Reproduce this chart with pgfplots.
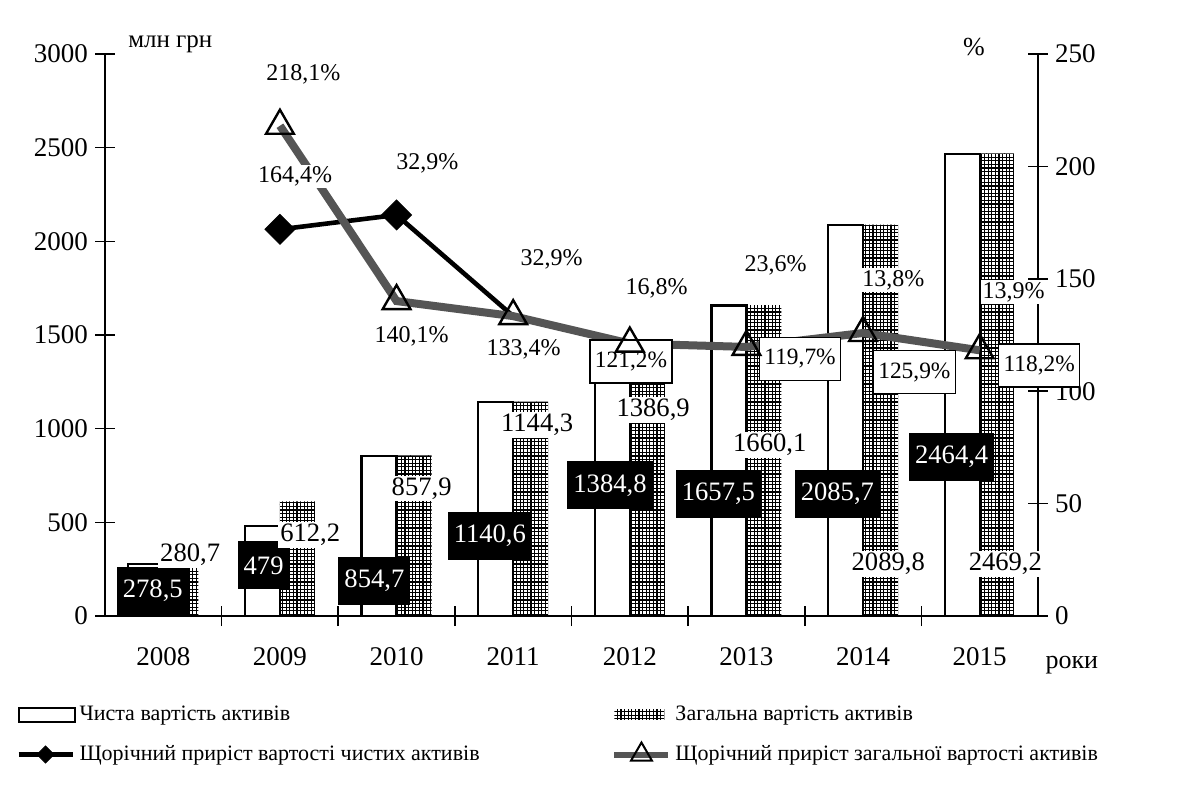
\documentclass[border=0pt]{standalone}
\usepackage{fontspec}
\setmainfont{Liberation Serif}
\usepackage{pgfplots}
\pgfplotsset{compat=1.18}
\usetikzlibrary{patterns}
\definecolor{lgray}{HTML}{555555}
\pgfdeclarepatternformonly{finegrid}{\pgfqpoint{-0.5pt}{-0.5pt}}{\pgfqpoint{2.3pt}{2.3pt}}{\pgfqpoint{1.8pt}{1.8pt}}{%
  \pgfsetlinewidth{0.55pt}%
  \pgfpathmoveto{\pgfqpoint{0pt}{0.9pt}}\pgfpathlineto{\pgfqpoint{1.9pt}{0.9pt}}%
  \pgfpathmoveto{\pgfqpoint{0.9pt}{0pt}}\pgfpathlineto{\pgfqpoint{0.9pt}{1.9pt}}%
  \pgfusepath{stroke}}
\tikzset{
 vlab/.style={fill=black,text=white,font=\fontsize{13.3}{15}\selectfont, inner xsep=3pt, inner ysep=0pt, minimum height=24pt},
 tlab/.style={fill=white, font=\fontsize{13.3}{15}\selectfont, inner sep=1pt},
 plab/.style={fill=white, font=\fontsize{12}{14}\selectfont, inner sep=1pt},
 blab/.style={fill=white, draw=black, line width=0.6pt, font=\fontsize{11.7}{14}\selectfont, inner xsep=2.5pt, inner ysep=0pt, minimum height=21.5pt},
}
\begin{document}
\begin{tikzpicture}
\begin{axis}[
  width=466.5pt, height=281pt, scale only axis,
  xmin=2007.5, xmax=2015.5, ymin=0, ymax=3000,
  axis x line=bottom, axis y line=left,
  axis line style={-, line width=0.8pt},
  clip=false,
  /pgf/number format/assume math mode=true,
  /pgf/number format/1000 sep={},
  xtick={2008.5,2009.5,2010.5,2011.5,2012.5,2013.5,2014.5},
  xticklabels={},
  extra x ticks={2008,2009,2010,2011,2012,2013,2014,2015},
  extra x tick labels={2008,2009,2010,2011,2012,2013,2014,2015},
  extra x tick style={major tick length=0pt, tick label style={yshift=-12pt}},
  ytick={0,500,1000,1500,2000,2500,3000},
  tick align=center, major tick length=10pt,
  tick style={line width=0.8pt, black},
  tick label style={font=\fontsize{13.5}{16}\selectfont},
  legend style={at={(-0.102,-0.145)}, anchor=north west, draw=none, fill=none,
    font=\fontsize{11}{13}\selectfont, row sep=7pt, cells={anchor=west}},
]
\addplot[ybar, bar width=0.3, bar shift=-0.15, fill=white, draw=black, line width=1.1pt, forget plot]
 coordinates {(2008,278.5) (2009,479) (2010,854.7) (2011,1140.6) (2012,1384.8) (2013,1657.5) (2014,2085.7) (2015,2464.4)};
\addplot[ybar, bar width=0.3, bar shift=0.15, pattern=finegrid, pattern color=black, draw=none, forget plot]
 coordinates {(2008,280.7) (2009,612.2) (2010,857.9) (2011,1144.3) (2012,1386.9) (2013,1660.1) (2014,2089.8) (2015,2469.2)};
\addlegendimage{legend image code/.code={\draw[fill=white,draw=black,line width=1pt] (0pt,-3.5pt) rectangle (28pt,3.5pt);}}
\addlegendentry{Чиста вартість активів}
\addlegendimage{legend image code/.code={\draw[black,line width=2.3pt,mark=square*,mark size=3pt,mark options={rotate=45,solid,line width=0.4pt},mark repeat=2,mark phase=2] plot coordinates {(0pt,0pt) (13.5pt,0pt) (27pt,0pt)};}}
\addlegendentry{Щорічний приріст вартості чистих активів}
\end{axis}
\begin{axis}[
  width=466.5pt, height=281pt, scale only axis,
  xmin=2007.5, xmax=2015.5, ymin=0, ymax=250,
  axis x line=none, axis y line=right,
  axis line style={-, line width=0.8pt},
  clip=false,
  /pgf/number format/assume math mode=true,
  ytick={0,50,100,150,200,250},
  tick align=center, major tick length=10pt,
  tick style={line width=0.8pt, black},
  tick label style={font=\fontsize{13.5}{16}\selectfont},
  legend style={at={(0.536,-0.145)}, anchor=north west, draw=none, fill=none,
    font=\fontsize{11}{13}\selectfont, row sep=7pt, cells={anchor=west}},
]
\addlegendimage{legend image code/.code={\draw[pattern=finegrid,pattern color=black,draw=none] (0pt,-2.5pt) rectangle (25pt,2.5pt);}}
\addlegendentry{Загальна вартість активів}
\addlegendimage{legend image code/.code={\draw[lgray,line width=3pt,mark=triangle,mark size=6pt,mark options={solid,fill=white,draw=black,line width=1pt},mark repeat=2,mark phase=2] plot coordinates {(0pt,0pt) (13.5pt,0pt) (27pt,0pt)};}}
\addlegendentry{Щорічний приріст загальної вартості активів}
% net assets growth (diamonds; later points hidden under the triangles)
\addplot[black, line width=2.3pt, mark=square*, mark size=5.3pt, mark indices={1,2}, mark options={rotate=45, solid, fill=black, line width=0.4pt}, forget plot]
 coordinates {(2009,172.0) (2010,178.4) (2011,133.4) (2012,121.4) (2013,119.7) (2014,125.8) (2015,118.2)};
% total assets growth (triangles)
\addplot[lgray, line width=4pt, mark=triangle, mark size=8pt, mark options={solid, fill=white, draw=black, line width=1.2pt}, forget plot]
 coordinates {(2009,218.1) (2010,140.1) (2011,133.4) (2012,121.2) (2013,119.7) (2014,125.9) (2015,118.2)};
% net value labels (black boxes)
\node[vlab] at (axis cs:2007.91,11.25) {278,5};
\node[vlab] at (axis cs:2008.86,22.5) {479};
\node[vlab] at (axis cs:2009.81,15.7) {854,7};
\node[vlab] at (axis cs:2010.80,35.75) {1140,6};
\node[vlab] at (axis cs:2011.83,58.1) {1384,8};
\node[vlab] at (axis cs:2012.76,54.3) {1657,5};
\node[vlab] at (axis cs:2013.78,54.3) {2085,7};
\node[vlab] at (axis cs:2014.76,70.9) {2464,4};
% total value labels
\node[tlab] at (axis cs:2008.23,27.2) {280,7};
\node[tlab] at (axis cs:2009.26,36.1) {612,2};
\node[tlab] at (axis cs:2010.215,56.75) {857,9};
\node[tlab] at (axis cs:2011.206,84.9) {1144,3};
\node[tlab] at (axis cs:2012.2,91.7) {1386,9};
\node[tlab] at (axis cs:2013.2,76.1) {1660,1};
\node[tlab] at (axis cs:2014.216,23.1) {2089,8};
\node[tlab] at (axis cs:2015.22,23.2) {2469,2};
% percentage labels
\node[plab] at (axis cs:2009.2,240.8) {218,1\%};
\node[plab] at (axis cs:2009.13,195.5) {164,4\%};
\node[plab] at (axis cs:2010.265,201.4) {32,9\%};
\node[plab] at (axis cs:2010.13,124.3) {140,1\%};
\node[plab] at (axis cs:2011.33,158.5) {32,9\%};
\node[plab] at (axis cs:2011.09,118.4) {133,4\%};
\node[plab] at (axis cs:2012.23,145.9) {16,8\%};
\node[plab] at (axis cs:2013.25,156.2) {23,6\%};
\node[plab] at (axis cs:2014.26,149.5) {13,8\%};
\node[plab] at (axis cs:2015.29,144.1) {13,9\%};
\node[blab] at (axis cs:2012.01,113.2) {121,2\%};
\node[blab] at (axis cs:2013.46,114.5) {119,7\%};
\node[blab] at (axis cs:2014.44,108.4) {125,9\%};
\node[blab] at (axis cs:2015.51,111.4) {118,2\%};
% axis titles
\node[font=\fontsize{12.5}{15}\selectfont] at (axis cs:2008.06,254.5) {млн грн};
\node[font=\fontsize{13}{15}\selectfont] at (axis cs:2014.95,253) {\%};
\node[font=\fontsize{13}{15}\selectfont] at (axis cs:2015.79,-22) {роки};
\end{axis}
\path (-52.5pt,-86.5pt) rectangle (540.5pt,308pt);
\end{tikzpicture}
\end{document}
